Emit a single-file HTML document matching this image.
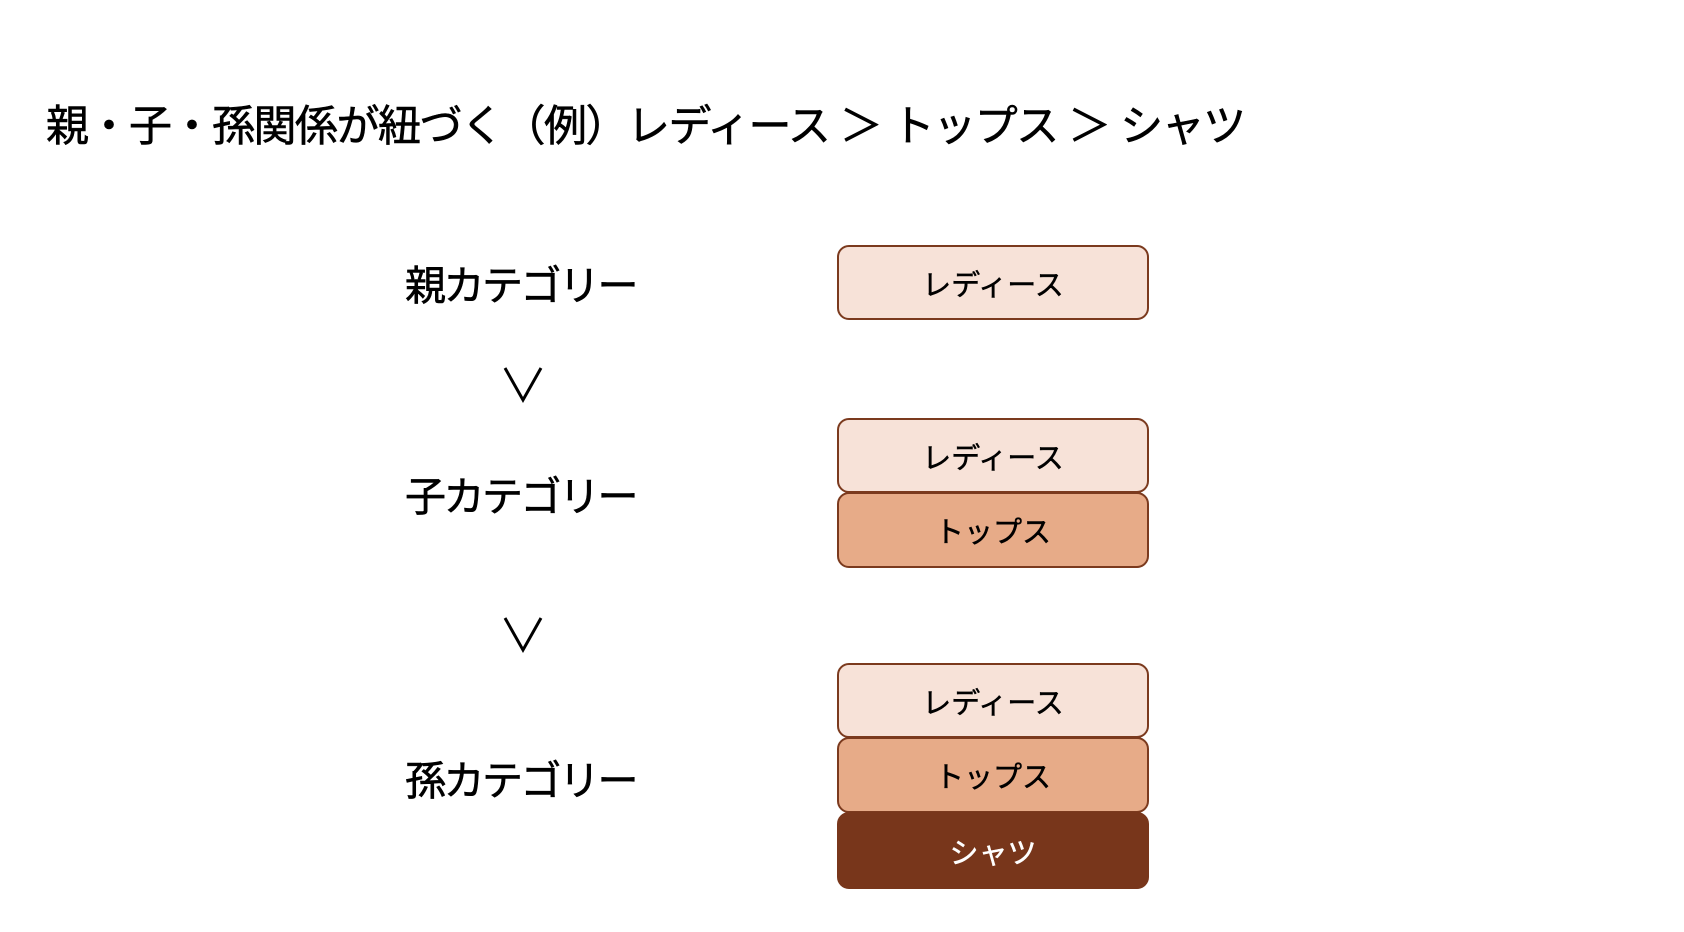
<!DOCTYPE html>
<html><head><meta charset="utf-8"><style>
body{margin:0;width:1684px;height:932px;background:#fff;position:relative;overflow:hidden;font-family:"Liberation Sans","Noto Sans CJK JP",sans-serif;color:#000}
.t{position:absolute;white-space:nowrap;line-height:1}
.b{position:absolute;left:837px;width:312px;border:2.5px solid #7b3a1e;border-radius:12px;display:flex;align-items:center;justify-content:center;font-size:29px;box-sizing:border-box;-webkit-text-stroke:0.5px #000}
.l{background:#f7e2d8}.m{background:#e7ab88}.d{background:#78361b;color:#fff;border-color:#78361b;-webkit-text-stroke:0.5px #fff}
.k{-webkit-text-stroke:0.6px #000}
</style></head><body>
<div class="t k" style="left:46px;top:106px;font-size:43px;letter-spacing:-1.5px">親・子・孫関係が紐づく（例）レディース ＞ トップス ＞ シャツ</div>
<div class="t k" style="left:405px;top:266px;font-size:41px;letter-spacing:-2.5px">親カテゴリー</div>
<div class="t k" style="left:405px;top:477px;font-size:41px;letter-spacing:-2.5px">子カテゴリー</div>
<div class="t k" style="left:405px;top:761px;font-size:41px;letter-spacing:-2.5px">孫カテゴリー</div>
<svg style="position:absolute;left:0;top:0" width="1684" height="932">
<polyline points="505,368 523,400 541,368" fill="none" stroke="#000" stroke-width="3"/>
<polyline points="505,618 523,650 541,618" fill="none" stroke="#000" stroke-width="3"/>
</svg>
<div class="b l" style="top:245px;height:75px">レディース</div>
<div class="b l" style="top:418px;height:75px">レディース</div>
<div class="b m" style="top:492px;height:76px">トップス</div>
<div class="b l" style="top:663px;height:75px">レディース</div>
<div class="b m" style="top:737px;height:76px">トップス</div>
<div class="b d" style="top:812px;height:77px">シャツ</div>
</body></html>
